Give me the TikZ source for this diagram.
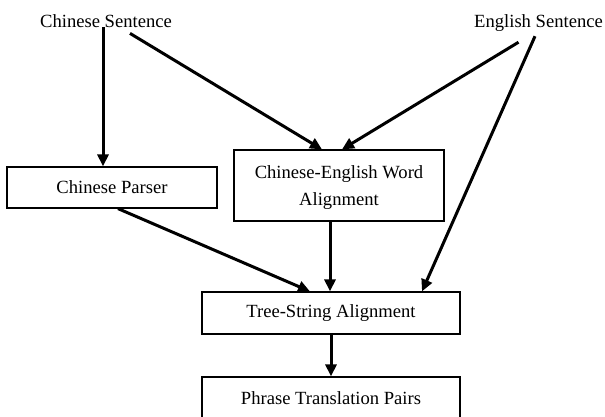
\documentclass[tikz,border=0pt]{standalone}
\usepackage{fontspec}
\setmainfont{Liberation Serif}
\usetikzlibrary{arrows.meta}
\begin{document}
\begin{tikzpicture}[x=1pt,y=-1pt,
  txt/.style={inner sep=0pt,font=\fontsize{18.6}{27.4}\selectfont},
  box/.style={txt,draw,line width=1.2pt,align=center},
  arr/.style={line width=3pt,-{Triangle[length=12pt,width=11pt]}}]
\useasboundingbox (0,0) rectangle (605,416);
\clip (0,0) rectangle (605,416);
\node[txt,anchor=base] (cs) at (106,27) {Chinese Sentence};
\node[txt,anchor=base] (es) at (538.5,27) {English Sentence};
\node[box,minimum width=210pt,minimum height=41pt] (parser) at (112,187.5) {Chinese Parser};
\node[box,minimum width=210pt,minimum height=71pt] (wa) at (339,185.5) {};
\node[txt,align=center,anchor=base] (watext) at (339,205.7) {Chinese-English Word\\Alignment};
\node[box,minimum width=258pt,minimum height=42pt] (ts) at (331,313) {Tree-String Alignment};
\node[box,minimum width=258pt,minimum height=42pt] (ph) at (331,398) {Phrase Translation Pairs};
\draw[arr] ([xshift=-3pt]cs.south) -- ([xshift=-3pt]cs.south |- parser.north);
\draw[arr] ([xshift=24pt,yshift=-6pt]cs.south) -- ([xshift=-17pt]wa.north);
\draw[arr] ([xshift=-20pt,yshift=-11pt]es.south) -- ([xshift=3pt]wa.north);
\draw[arr] ([xshift=-3.5pt,yshift=-5pt]es.south) -- ([xshift=91pt]ts.north);
\draw[arr] ([xshift=6pt]parser.south) -- ([xshift=-21pt]ts.north);
\draw[arr] ([xshift=-9pt]wa.south) -- ([xshift=-9pt]wa.south |- ts.north);
\draw[arr] (ts.south) -- (ph.north);
\end{tikzpicture}
\end{document}
